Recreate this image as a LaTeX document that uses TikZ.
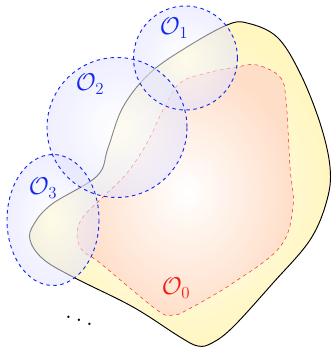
\documentclass[tikz,border=0pt]{standalone}
\usepackage{amsmath}
\usepackage{amssymb}
\usepackage{xcolor}
\definecolor{cvblue}{RGB}{20,40,235}
\definecolor{cvred}{RGB}{240,30,20}
\definecolor{cvyellow}{RGB}{255,246,192}
\definecolor{cvorange}{RGB}{255,222,200}
\definecolor{cvlavender}{RGB}{225,225,255}
\usetikzlibrary{arrows.meta, positioning, calc}

\tikzset{
  cover/.style={inner color=white, outer color=cvlavender, fill opacity=0.55},
  cover line/.style={draw=cvblue, dashed, thick},
  cover label/.style={font=\fontsize{21}{24}\selectfont, inner sep=0pt},
}

\begin{document}
\begin{tikzpicture}[x=0.03cm, y=-0.03cm]
\useasboundingbox (0,0) rectangle (332,349);

% Outer domain
\shade[draw=black, thick, inner color=white, outer color=cvyellow]
  plot[smooth cycle, tension=0.6] coordinates {
    (247,23) (277,37) (300,73) (320,123) (330,167) (327,200) (310,240)
    (273,283) (233,327) (212,343) (198,346) (180,337) (133,307) (73,277)
    (43,259) (30,240) (34,224) (52,204) (97,176) (108,148) (123,107)
    (150,73) (187,47) (227,25)};

% Inner set O_0
\shade[draw=cvred, dashed, inner color=white, outer color=cvorange]
  plot[smooth cycle, tension=0.6] coordinates {
    (257,65) (280,77) (286,100) (290,167) (293,207) (280,247) (233,283)
    (187,310) (173,315) (157,310) (100,263) (82,250) (77,233) (83,217)
    (103,197) (127,173) (147,143) (163,110) (180,83) (207,73) (237,67)};

% Covering sets
\shade[cover] (185.5,58) circle (52);
\shade[cover] (117,127.5) circle (70);
\shade[cover] (53,220) ellipse (46 and 65.5);
\draw[cover line] (185.5,58) circle (52);
\draw[cover line] (117,127.5) circle (70);
\draw[cover line] (53,220) ellipse (46 and 65.5);

% Labels
\node[cover label, cvblue] (lblone) at (174,28) {$\mathcal{O}_1$};
\node[cover label, cvblue] (lbltwo) at (90,84) {$\mathcal{O}_2$};
\node[cover label, cvblue] (lblthree) at (43,188) {$\mathcal{O}_3$};
\node[cover label, cvred] (lblzero) at (176,288) {$\mathcal{O}_0$};
\node[font=\Huge] (dots) at (79,317) {$\ddots$};

\end{tikzpicture}
\end{document}
